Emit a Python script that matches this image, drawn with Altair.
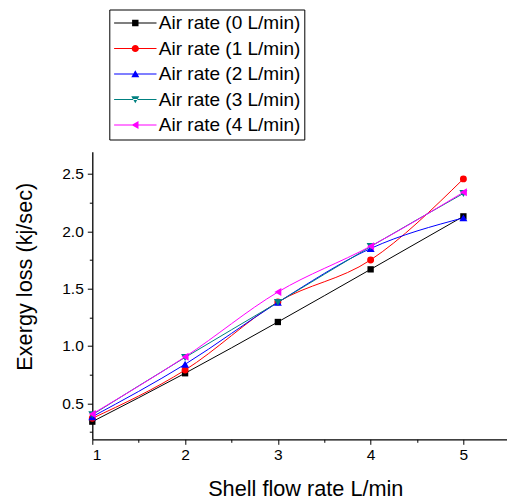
import altair as alt
import pandas as pd

x_vals = [1, 2, 3, 4, 5]
series_names = ["Air rate (0 L/min)", "Air rate (1 L/min)", "Air rate (2 L/min)",
                "Air rate (3 L/min)", "Air rate (4 L/min)"]
air0 = [0.34, 0.762, 1.209, 1.668, 2.13]
air1 = [0.369, 0.79, 1.383, 1.75, 2.457]
air2 = [0.383, 0.84, 1.38, 1.85, 2.117]
air3 = [0.40, 0.90, 1.38, 1.867, 2.33]
air4 = [0.407, 0.905, 1.47, 1.87, 2.34]
colors = ["#000000", "#FF0000", "#0000FF", "#008080", "#FF00FF"]
shapes = ["square", "circle", "triangle-up", "triangle-down", "triangle-left"]
marker_sizes = [40, 48, 64, 64, 64]
x_ticks = [1, 2, 3, 4, 5]
x_minor = [1.5, 2.5, 3.5, 4.5]
y_ticks = [0.5, 1.0, 1.5, 2.0, 2.5]
y_minor = [0.25, 0.75, 1.25, 1.75, 2.25]

rows = []
for name, vals in zip(series_names, [air0, air1, air2, air3, air4]):
    for xv, yv in zip(x_vals, vals):
        rows.append({"x": xv, "y": yv, "series": name})
df = pd.DataFrame(rows)

FONT = "Liberation Sans"
xscale = alt.Scale(domain=[1, 5.47], nice=False, zero=False)
yscale = alt.Scale(domain=[0.186, 2.694], nice=False, zero=False)
cscale = alt.Scale(domain=series_names, range=colors)

x_axis = alt.Axis(values=x_ticks, format="d", title="Shell flow rate L/min",
                  orient="bottom", tickSize=5, labelPadding=3, grid=False,
                  titleX=213, titleY=55.7, titleBaseline="alphabetic", titleAlign="center")
y_axis = alt.Axis(values=y_ticks, format=".1f", title="Exergy loss (kj/sec)",
                  orient="left", tickSize=5, labelPadding=4, grid=False,
                  titleX=-60.5, titleY=124.5, titleAngle=-90, titleBaseline="alphabetic",
                  titleAlign="center")

series_layers = []
for name, col in zip(series_names, colors):
    base = alt.Chart(df).transform_filter(alt.datum.series == name).encode(
        x=alt.X("x:Q", scale=xscale, axis=x_axis),
        y=alt.Y("y:Q", scale=yscale, axis=y_axis),
    )
    series_layers.append(base.mark_line(strokeWidth=1, interpolate="monotone", color=col))
for name, col, shp, sz in zip(series_names, colors, shapes, marker_sizes):
    base = alt.Chart(df).transform_filter(alt.datum.series == name).encode(
        x=alt.X("x:Q", scale=xscale, axis=x_axis),
        y=alt.Y("y:Q", scale=yscale, axis=y_axis),
    )
    series_layers.append(base.mark_point(filled=True, opacity=1, strokeWidth=0,
                                         shape=shp, size=sz, color=col))

line_seg = "M-5.3,-0.13H5.3V0.13H-5.3Z"
leg_paths = [
    line_seg + "M-0.8,-0.8H0.8V0.8H-0.8Z",
    line_seg + "M0.9,0A0.9,0.9,0,1,1,-0.9,0A0.9,0.9,0,1,1,0.9,0Z",
    line_seg + "M0,-0.95L1,0.8L-1,0.8Z",
    line_seg + "M0,0.95L1,-0.8L-1,-0.8Z",
    line_seg + "M-0.95,0L0.8,-1L0.8,1Z",
]
legend = alt.Legend(title=None, orient="none", legendX=17, legendY=-142.2,
                    symbolSize=64, symbolStrokeWidth=0, symbolOpacity=1,
                    symbolOffset=12.5, labelOffset=14, labelFontSize=19, labelFont=FONT,
                    labelColor="#000000", rowPadding=5.5, padding=4,
                    strokeColor="#000000", fillColor="#FFFFFF", cornerRadius=0)

legend_layer = alt.Chart(df).mark_point(filled=True, opacity=0, size=64).encode(
    x=alt.X("x:Q", scale=xscale, axis=x_axis),
    y=alt.Y("y:Q", scale=yscale, axis=y_axis),
    color=alt.Color("series:N", scale=cscale, legend=legend),
    shape=alt.Shape("series:N", scale=alt.Scale(domain=series_names, range=leg_paths),
                    legend=legend),
)

minor = alt.Chart(df).mark_point(opacity=0).encode(
    x=alt.X("x:Q", scale=xscale, axis=alt.Axis(values=x_minor, labels=False, title=None,
                                                 tickSize=3, domain=False, grid=False,
                                                 orient="bottom")),
    y=alt.Y("y:Q", scale=yscale, axis=alt.Axis(values=y_minor, labels=False, title=None,
                                                 tickSize=3, domain=False, grid=False,
                                                 orient="left")),
)

main = alt.layer(*series_layers, legend_layer)

chart = alt.layer(main, minor).resolve_axis(x="independent", y="independent").properties(
    width=414.7, height=287.6,
    background="#FFFFFF",
    autosize=alt.AutoSizeParams(type="none"),
    padding={"left": 92.3, "top": 151.7, "right": 0, "bottom": 59.7},
).configure_view(stroke=None).configure_axis(
    domainColor="#000000", domainWidth=1.3, tickColor="#000000", tickWidth=1,
    labelFont=FONT, labelFontSize=15.5, labelColor="#000000",
    titleFont=FONT, titleFontSize=21.7, titleFontWeight="normal", titleColor="#000000",
)

chart.save("out.html", embed_options={"renderer": "svg", "actions": False})
